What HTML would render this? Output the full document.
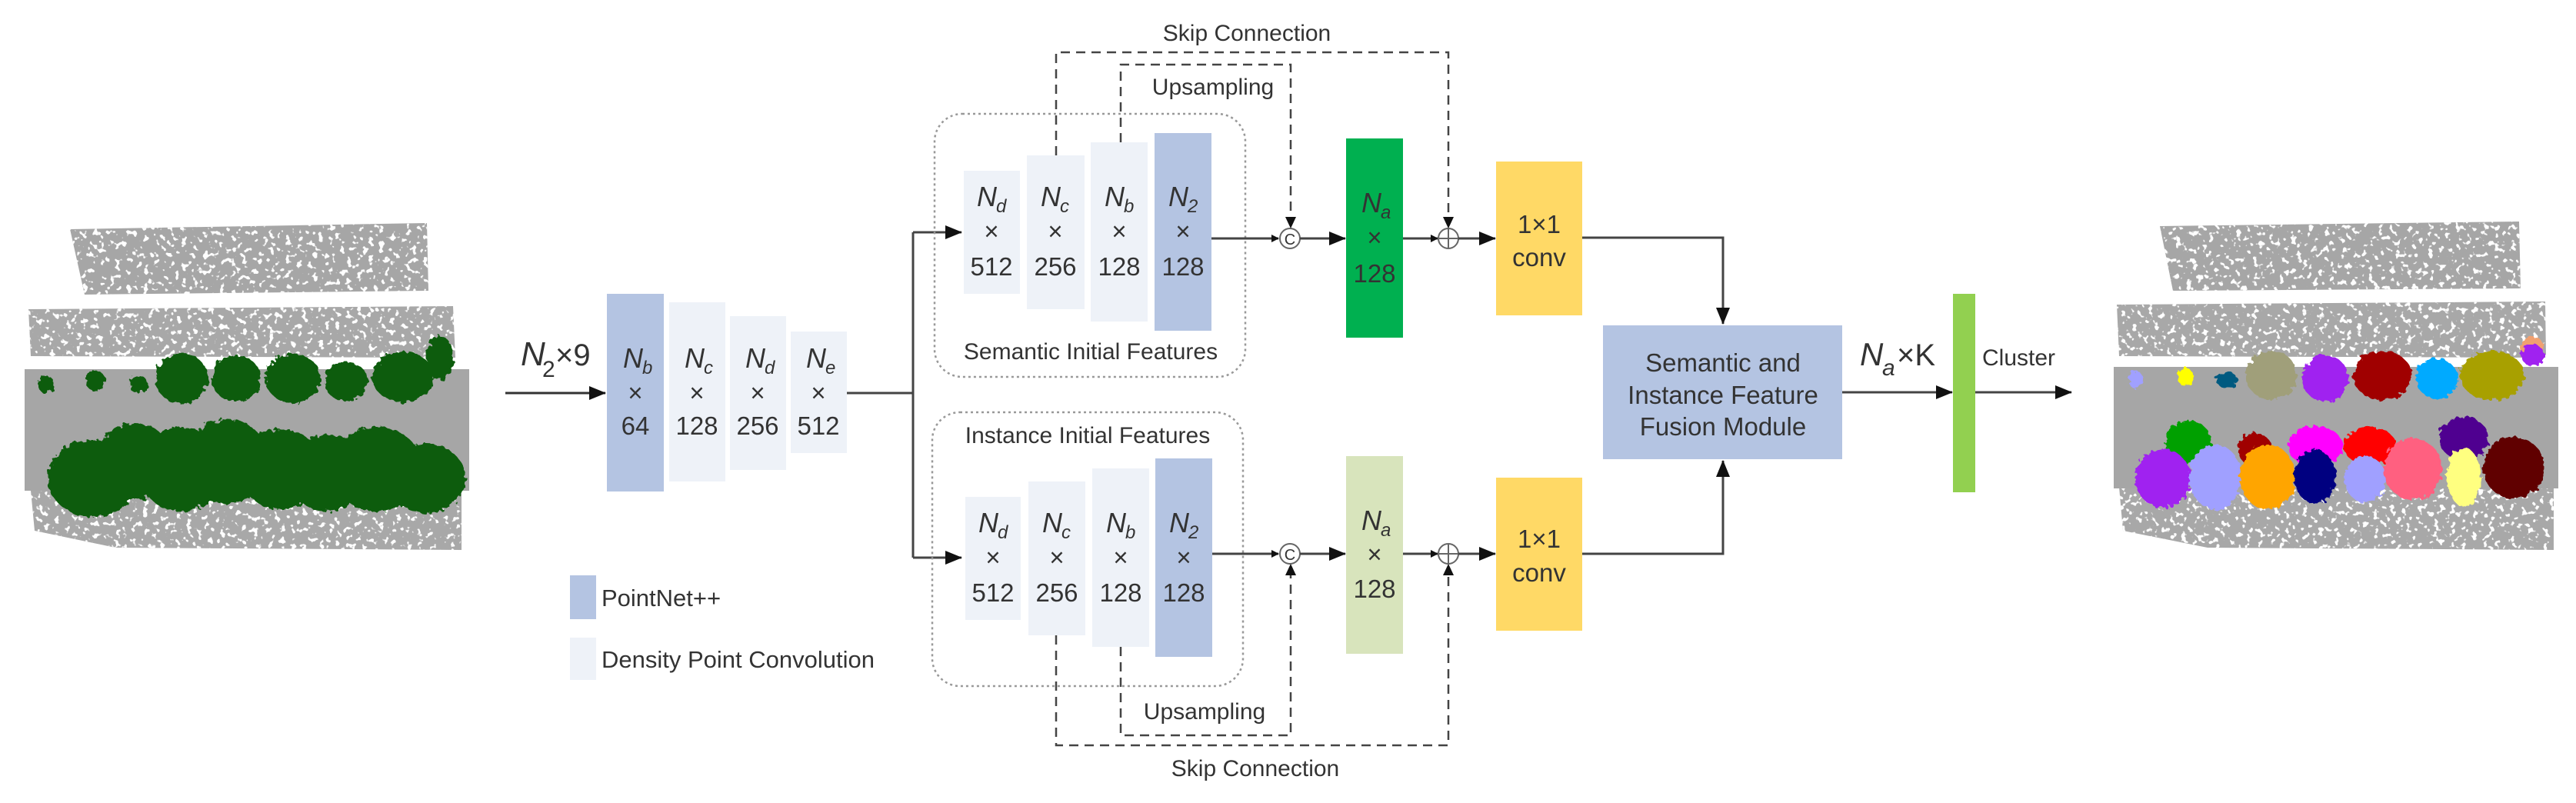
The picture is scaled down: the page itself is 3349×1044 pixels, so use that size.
<!DOCTYPE html>
<html><head><meta charset="utf-8"><style>
html,body{margin:0;padding:0;background:#fff;}
svg{display:block;}
text{font-family:"Liberation Sans",sans-serif;fill:#333;}
.n{font-size:33px;text-anchor:middle;}
.nn{font-size:36px;font-style:italic;}
.sub{font-size:24px;font-style:italic;}
.lbl{font-size:30px;text-anchor:middle;}
</style></head><body>
<svg width="3349" height="1044" viewBox="0 0 3349 1044" xmlns="http://www.w3.org/2000/svg">
<defs>
<marker id="a" markerWidth="10" markerHeight="10" refX="9" refY="5" orient="auto" markerUnits="userSpaceOnUse" viewBox="0 0 10 10"><path d="M0,0 L10,5 L0,10 z" fill="#111"/></marker>
<marker id="b" markerWidth="22" markerHeight="18" refX="21" refY="9" orient="auto" markerUnits="userSpaceOnUse"><path d="M0,0 L22,9 L0,18 z" fill="#111"/></marker>
<filter id="speck" x="0" y="0" width="100%" height="100%">
<feTurbulence type="fractalNoise" baseFrequency="0.14" numOctaves="2" seed="3" result="t"/>
<feColorMatrix in="t" type="matrix" values="0 0 0 0 1  0 0 0 0 1  0 0 0 0 1  0 0 0 -14 5.6" result="w"/>
<feComposite in="w" in2="SourceGraphic" operator="in" result="wm"/>
<feMerge><feMergeNode in="SourceGraphic"/><feMergeNode in="wm"/></feMerge>
</filter>
<filter id="bump"><feTurbulence type="fractalNoise" baseFrequency="0.15" numOctaves="2" seed="5" result="n"/><feDisplacementMap in="SourceGraphic" in2="n" scale="10"/></filter>
</defs>

<!-- LEFT POINT CLOUD -->
<g filter="url(#speck)">
<polygon points="91,298 555,290 557,378 110,383" fill="#a6a6a6"/>
<polygon points="37,402 589,398 592,465 40,463" fill="#a8a8a8"/>
<polygon points="40,638 600,636 600,715 150,712 45,690" fill="#a8a8a8"/>
</g>
<rect x="32" y="480" width="578" height="158" fill="#a6a6a6"/>
<g fill="#0a5c0a" filter="url(#bump)">
<circle cx="60" cy="500" r="11"/><circle cx="124" cy="495" r="13"/><circle cx="180" cy="500" r="12"/>
<ellipse cx="236" cy="492" rx="34" ry="33"/><ellipse cx="307" cy="492" rx="32" ry="30"/><ellipse cx="381" cy="492" rx="36" ry="32"/><ellipse cx="450" cy="496" rx="28" ry="26"/><ellipse cx="524" cy="490" rx="40" ry="33"/><ellipse cx="572" cy="465" rx="18" ry="28"/>
<ellipse cx="120" cy="622" rx="58" ry="50"/><ellipse cx="175" cy="600" rx="50" ry="50"/><ellipse cx="235" cy="610" rx="55" ry="55"/><ellipse cx="295" cy="600" rx="55" ry="55"/><ellipse cx="365" cy="610" rx="55" ry="52"/><ellipse cx="425" cy="615" rx="50" ry="50"/><ellipse cx="490" cy="610" rx="60" ry="55"/><ellipse cx="555" cy="622" rx="50" ry="45"/>
</g>

<!-- RIGHT POINT CLOUD -->
<g filter="url(#speck)">
<polygon points="2808,294 3275,288 3277,375 2825,378" fill="#a6a6a6"/>
<polygon points="2752,396 3309,392 3310,465 2755,463" fill="#a8a8a8"/>
<polygon points="2755,633 3320,633 3320,715 2870,712 2760,690" fill="#a8a8a8"/>
</g>
<rect x="2748" y="477" width="578" height="158" fill="#a6a6a6"/>
<g filter="url(#bump)">
<ellipse cx="2777" cy="494" rx="9" ry="12" fill="#a0a0ff"/>
<ellipse cx="2841" cy="490" rx="10" ry="12" fill="#ffff00"/>
<ellipse cx="2895" cy="494" rx="14" ry="10" fill="#005a80"/>
<ellipse cx="2953" cy="488" rx="33" ry="32" fill="#a09f7a"/>
<ellipse cx="3023" cy="492" rx="30" ry="30" fill="#a020f0"/>
<ellipse cx="3097" cy="488" rx="38" ry="32" fill="#a00000"/>
<ellipse cx="3168" cy="492" rx="27" ry="26" fill="#00aaff"/>
<ellipse cx="3240" cy="488" rx="42" ry="32" fill="#a8a000"/>
<ellipse cx="3292" cy="452" rx="15" ry="15" fill="#f0a070"/>
<ellipse cx="3293" cy="462" rx="15" ry="14" fill="#a020f0"/>
<ellipse cx="2845" cy="575" rx="30" ry="28" fill="#00a000"/>
<ellipse cx="2812" cy="622" rx="36" ry="38" fill="#a020f0"/>
<ellipse cx="2880" cy="620" rx="34" ry="42" fill="#a0a0ff"/>
<ellipse cx="2932" cy="585" rx="22" ry="22" fill="#a00000"/>
<ellipse cx="2948" cy="620" rx="36" ry="42" fill="#ffa500"/>
<ellipse cx="3010" cy="580" rx="36" ry="26" fill="#ff00ff"/>
<ellipse cx="3010" cy="620" rx="27" ry="35" fill="#000080"/>
<ellipse cx="3081" cy="580" rx="34" ry="25" fill="#ff0000"/>
<ellipse cx="3075" cy="623" rx="27" ry="30" fill="#a0a0ff"/>
<ellipse cx="3137" cy="610" rx="38" ry="40" fill="#ff6080"/>
<ellipse cx="3203" cy="570" rx="32" ry="28" fill="#500090"/>
<ellipse cx="3203" cy="620" rx="22" ry="38" fill="#ffff80"/>
<ellipse cx="3268" cy="608" rx="40" ry="40" fill="#600000"/>
</g>

<!-- input arrow -->
<line x1="657" y1="511" x2="787" y2="511" stroke="#333" stroke-width="3" marker-end="url(#b)"/>
<text x="677" y="475" class="nn" style="font-size:44px">N</text><text x="705" y="490" class="sub" style="font-size:30px;font-style:normal">2</text><text x="722" y="475" style="font-size:40px">×9</text>

<!-- encoder blocks -->
<rect x="789" y="382" width="74" height="257" fill="#b4c4e2"/>
<rect x="870" y="393" width="73" height="233" fill="#eef2f8"/>
<rect x="949" y="411" width="73" height="200" fill="#eef2f8"/>
<rect x="1028" y="431" width="73" height="158" fill="#eef2f8"/>
<g>
<text x="810" y="478" class="nn">N</text><text x="835" y="486" class="sub">b</text><text x="826" y="522" class="n">×</text><text x="826" y="565" class="n">64</text>
<text x="890" y="478" class="nn">N</text><text x="915" y="486" class="sub">c</text><text x="906" y="522" class="n">×</text><text x="906" y="565" class="n">128</text>
<text x="969" y="478" class="nn">N</text><text x="994" y="486" class="sub">d</text><text x="985" y="522" class="n">×</text><text x="985" y="565" class="n">256</text>
<text x="1048" y="478" class="nn">N</text><text x="1073" y="486" class="sub">e</text><text x="1064" y="522" class="n">×</text><text x="1064" y="565" class="n">512</text>
</g>
<polyline points="1101,511 1187,511" fill="none" stroke="#444" stroke-width="3"/>
<line x1="1187" y1="302" x2="1187" y2="725" stroke="#444" stroke-width="3"/>
<line x1="1187" y1="302" x2="1250" y2="302" stroke="#444" stroke-width="3" marker-end="url(#b)"/>
<line x1="1187" y1="725" x2="1250" y2="725" stroke="#444" stroke-width="3" marker-end="url(#b)"/>

<!-- legend -->
<rect x="741" y="748" width="34" height="57" fill="#b4c4e2"/>
<text x="782" y="788" style="font-size:31px">PointNet++</text>
<rect x="741" y="829" width="34" height="55" fill="#eef2f8"/>
<text x="782" y="868" style="font-size:31px">Density Point Convolution</text>

<!-- dotted group boxes -->
<rect x="1215" y="148" width="404" height="342" rx="36" fill="none" stroke="#999" stroke-width="2.5" stroke-dasharray="3,4"/>
<rect x="1212" y="536" width="404" height="356" rx="36" fill="none" stroke="#999" stroke-width="2.5" stroke-dasharray="3,4"/>
<text x="1418" y="467" class="lbl">Semantic Initial Features</text>
<text x="1414" y="576" class="lbl">Instance Initial Features</text>

<!-- top blocks -->
<rect x="1253" y="222" width="73" height="160" fill="#eef2f8"/>
<rect x="1335" y="202" width="75" height="200" fill="#eef2f8"/>
<rect x="1418" y="185" width="74" height="233" fill="#eef2f8"/>
<rect x="1501" y="173" width="74" height="257" fill="#b4c4e2"/>
<text x="1270" y="268" class="nn">N</text><text x="1295" y="276" class="sub">d</text><text x="1289" y="312" class="n">×</text><text x="1289" y="358" class="n">512</text>
<text x="1353" y="268" class="nn">N</text><text x="1378" y="276" class="sub">c</text><text x="1372" y="312" class="n">×</text><text x="1372" y="358" class="n">256</text>
<text x="1436" y="268" class="nn">N</text><text x="1461" y="276" class="sub">b</text><text x="1455" y="312" class="n">×</text><text x="1455" y="358" class="n">128</text>
<text x="1519" y="268" class="nn">N</text><text x="1544" y="276" class="sub">2</text><text x="1538" y="312" class="n">×</text><text x="1538" y="358" class="n">128</text>

<!-- bottom blocks -->
<rect x="1255" y="646" width="72" height="160" fill="#eef2f8"/>
<rect x="1337" y="626" width="74" height="200" fill="#eef2f8"/>
<rect x="1420" y="609" width="74" height="232" fill="#eef2f8"/>
<rect x="1502" y="596" width="74" height="258" fill="#b4c4e2"/>
<text x="1272" y="692" class="nn">N</text><text x="1297" y="700" class="sub">d</text><text x="1291" y="736" class="n">×</text><text x="1291" y="782" class="n">512</text>
<text x="1355" y="692" class="nn">N</text><text x="1380" y="700" class="sub">c</text><text x="1374" y="736" class="n">×</text><text x="1374" y="782" class="n">256</text>
<text x="1438" y="692" class="nn">N</text><text x="1463" y="700" class="sub">b</text><text x="1457" y="736" class="n">×</text><text x="1457" y="782" class="n">128</text>
<text x="1520" y="692" class="nn">N</text><text x="1545" y="700" class="sub">2</text><text x="1539" y="736" class="n">×</text><text x="1539" y="782" class="n">128</text>

<!-- top path -->
<line x1="1575" y1="310" x2="1662" y2="310" stroke="#444" stroke-width="3" marker-end="url(#a)"/>
<circle cx="1677" cy="310" r="13" fill="#fff" stroke="#666" stroke-width="2"/><text x="1677" y="318" style="font-size:20px;text-anchor:middle">C</text>
<line x1="1690" y1="310" x2="1749" y2="310" stroke="#444" stroke-width="3" marker-end="url(#b)"/>
<rect x="1750" y="180" width="74" height="259" fill="#00b050"/>
<text x="1770" y="276" class="nn">N</text><text x="1795" y="284" class="sub">a</text><text x="1787" y="320" class="n">×</text><text x="1787" y="367" class="n">128</text>
<line x1="1824" y1="310" x2="1869" y2="310" stroke="#444" stroke-width="3" marker-end="url(#a)"/>
<circle cx="1883" cy="310" r="13" fill="#fff" stroke="#666" stroke-width="2"/><path d="M1870,310 H1896 M1883,297 V323" stroke="#666" stroke-width="2"/>
<line x1="1896" y1="310" x2="1944" y2="310" stroke="#444" stroke-width="3" marker-end="url(#b)"/>
<rect x="1945" y="210" width="112" height="200" fill="#ffd966"/>
<text x="2001" y="303" class="n">1×1</text><text x="2001" y="346" class="n">conv</text>
<polyline points="2057,309 2240,309 2240,421" fill="none" stroke="#444" stroke-width="3" marker-end="url(#b)"/>

<!-- bottom path -->
<line x1="1576" y1="720" x2="1662" y2="720" stroke="#444" stroke-width="3" marker-end="url(#a)"/>
<circle cx="1677" cy="720" r="13" fill="#fff" stroke="#666" stroke-width="2"/><text x="1677" y="728" style="font-size:20px;text-anchor:middle">C</text>
<line x1="1690" y1="720" x2="1749" y2="720" stroke="#444" stroke-width="3" marker-end="url(#b)"/>
<rect x="1750" y="593" width="74" height="257" fill="#d8e4bc"/>
<text x="1770" y="689" class="nn">N</text><text x="1795" y="697" class="sub">a</text><text x="1787" y="732" class="n">×</text><text x="1787" y="777" class="n">128</text>
<line x1="1824" y1="720" x2="1869" y2="720" stroke="#444" stroke-width="3" marker-end="url(#a)"/>
<circle cx="1883" cy="720" r="13" fill="#fff" stroke="#666" stroke-width="2"/><path d="M1870,720 H1896 M1883,707 V733" stroke="#666" stroke-width="2"/>
<line x1="1896" y1="720" x2="1944" y2="720" stroke="#444" stroke-width="3" marker-end="url(#b)"/>
<rect x="1945" y="621" width="112" height="199" fill="#ffd966"/>
<text x="2001" y="712" class="n">1×1</text><text x="2001" y="756" class="n">conv</text>
<polyline points="2057,720 2240,720 2240,599" fill="none" stroke="#444" stroke-width="3" marker-end="url(#b)"/>

<!-- dashed skip/upsampling -->
<g fill="none" stroke="#444" stroke-width="2.5" stroke-dasharray="12,8">
<polyline points="1373,202 1373,68 1883,68 1883,292"/>
<polyline points="1457,185 1457,84 1678,84 1678,292"/>
<polyline points="1373,826 1373,969 1883,969 1883,738"/>
<polyline points="1457,841 1457,956 1678,956 1678,738"/>
</g>
<path d="M1671,282 L1685,282 L1678,297 z M1876,282 L1890,282 L1883,297 z M1671,748 L1685,748 L1678,733 z M1876,748 L1890,748 L1883,733 z" fill="#111"/>
<text x="1621" y="53" class="lbl">Skip Connection</text>
<text x="1577" y="123" class="lbl">Upsampling</text>
<text x="1566" y="935" class="lbl">Upsampling</text>
<text x="1632" y="1009" class="lbl">Skip Connection</text>

<!-- fusion -->
<rect x="2084" y="423" width="311" height="174" fill="#b4c4e2"/>
<text x="2240" y="483" class="n">Semantic and</text>
<text x="2240" y="525" class="n">Instance Feature</text>
<text x="2240" y="566" class="n">Fusion Module</text>
<line x1="2395" y1="510" x2="2538" y2="510" stroke="#444" stroke-width="3" marker-end="url(#b)"/>
<text x="2418" y="475" class="nn" style="font-size:42px">N</text><text x="2447" y="488" class="sub" style="font-size:30px">a</text><text x="2466" y="475" style="font-size:40px">×K</text>
<rect x="2539" y="382" width="29" height="258" fill="#92d050"/>
<text x="2577" y="475" style="font-size:30px">Cluster</text>
<line x1="2568" y1="510" x2="2693" y2="510" stroke="#444" stroke-width="3" marker-end="url(#b)"/>
</svg>
</body></html>
